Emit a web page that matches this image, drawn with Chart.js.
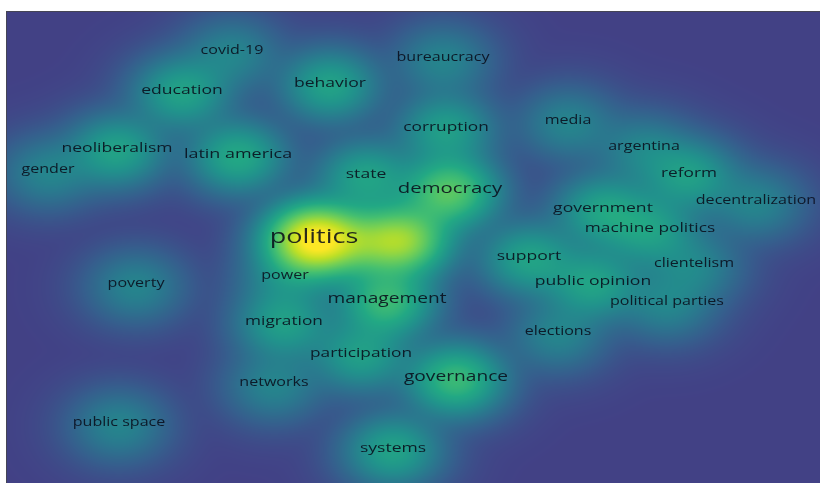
<!DOCTYPE html>
<html>
<head>
<meta charset="utf-8">
<script src="https://cdn.jsdelivr.net/npm/chart.js@4/dist/chart.umd.min.js"></script>
<style>
  html, body { margin: 0; padding: 0; background: #ffffff; }
  #c { display: block; }
</style>
</head>
<body>
<canvas id="c" width="822" height="483"></canvas>
<script>
// ---- Data (map coordinates of the items) ----
const labels = ["politics","democracy","management","governance","latin america","education","systems",
  "corruption","state","government","support","public opinion","participation","migration","behavior",
  "reform","machine politics","neoliberalism","covid-19","bureaucracy","media","gender","argentina",
  "decentralization","clientelism","political parties","elections","poverty","power","networks","public space",
  "", ""];
const xs = [308,444,381,450,232,176,387,
  440,360,597,523,587,355,278,324,
  683,644,111,226,437,562,42,638,
  750,688,661,552,130,279,268,113,
  396,352];
const ys = [225,177,287,365,142,78,436,
  115,162,196,244,269,341,309,71,
  161,216,136,39,46,109,158,135,
  189,252,290,320,272,264,371,411,
  226,228];
const weights = [100,45,35,35,25,22,22,
  20,22,22,22,22,20,20,22,
  20,20,22,10,10,10,10,10,
  10,10,10,10,10,10,10,10,
  62,25];

// ---- Style ----
const VIRIDIS = ["#440154","#482475","#414487","#355f8d","#2a788e","#21918c","#22a884","#44bf70","#7ad151","#bddf26","#fde725"];
const BASE_T = 0.19;
const SIGMA_X = 28, SIGMA_Y = 21;   // kernel width in map units
const GAMMA = 0.5;
const TEXT_STRETCH = 1.35;
const GLOW_SHIFT_Y = 4;             // density centre slightly below label centre

function hexRgb(h){ return [parseInt(h.substr(1,2),16),parseInt(h.substr(3,2),16),parseInt(h.substr(5,2),16)]; }
const VIR = VIRIDIS.map(hexRgb);
function viridis(t){
  t = Math.max(0, Math.min(1, t));
  const f = t * (VIR.length - 1);
  const i = Math.min(VIR.length - 2, Math.floor(f));
  const u = f - i;
  const a = VIR[i], b = VIR[i+1];
  return [a[0]+(b[0]-a[0])*u, a[1]+(b[1]-a[1])*u, a[2]+(b[2]-a[2])*u];
}

const points = xs.map((x, i) => ({ x: x, y: ys[i] }));

const densityPlugin = {
  id: 'density',
  beforeDatasetsDraw(chart) {
    const { ctx, chartArea: ca, scales } = chart;
    const sx = scales.x, sy = scales.y;
    const px = xs.map(v => sx.getPixelForValue(v));
    const py = ys.map(v => sy.getPixelForValue(v) + GLOW_SHIFT_Y);
    const kx = Math.abs(sx.getPixelForValue(SIGMA_X) - sx.getPixelForValue(0));
    const ky = Math.abs(sy.getPixelForValue(SIGMA_Y) - sy.getPixelForValue(0));
    const x0 = Math.round(ca.left), y0 = Math.round(ca.top);
    const w = Math.round(ca.right) - x0, h = Math.round(ca.bottom) - y0;
    const img = ctx.createImageData(w, h);
    const d = img.data;
    const ax = 1 / (2 * kx * kx), ay = 1 / (2 * ky * ky);
    for (let j = 0; j < h; j++) {
      const yy = y0 + j + 0.5;
      for (let i = 0; i < w; i++) {
        const xx = x0 + i + 0.5;
        let D = 0;
        for (let k = 0; k < px.length; k++) {
          const dx = xx - px[k], dy = yy - py[k];
          const e = dx * dx * ax + dy * dy * ay;
          if (e < 20) D += weights[k] * Math.exp(-e);
        }
        const t = BASE_T + (1 - BASE_T) * Math.min(1, Math.pow(D / 100, GAMMA));
        const c = viridis(t);
        const o = (j * w + i) * 4;
        d[o] = c[0]; d[o+1] = c[1]; d[o+2] = c[2]; d[o+3] = 255;
      }
    }
    ctx.putImageData(img, x0, y0);
    ctx.save();
    ctx.fillStyle = 'rgba(70,70,80,0.9)';
    ctx.fillRect(x0, y0, w, 1);
    ctx.fillRect(x0, y0, 1, h);
    ctx.restore();
  }
};

const labelPlugin = {
  id: 'itemLabels',
  afterDatasetsDraw(chart) {
    const { ctx, scales } = chart;
    ctx.save();
    ctx.textAlign = 'center';
    ctx.textBaseline = 'middle';
    ctx.fillStyle = 'rgba(8,10,24,0.86)';
    labels.forEach((lab, i) => {
      if (!lab) return;
      const x = scales.x.getPixelForValue(xs[i]);
      const y = scales.y.getPixelForValue(ys[i]);
      const size = Math.min(20, 11.0 + 0.09 * weights[i]);
      ctx.save();
      ctx.translate(x, y + 1);
      ctx.scale(TEXT_STRETCH, 1);
      ctx.font = size.toFixed(1) + 'px "Open Sans", "DejaVu Sans", sans-serif';
      ctx.fillText(lab, 0, 0);
      ctx.restore();
    });
    ctx.restore();
  }
};

new Chart(document.getElementById('c'), {
  type: 'scatter',
  data: { datasets: [{ data: points, pointRadius: 0, pointHoverRadius: 0, showLine: false }] },
  options: {
    responsive: false,
    animation: false,
    devicePixelRatio: 1,
    layout: { padding: { left: 6, top: 11, right: 2, bottom: 0 } },
    scales: {
      x: { type: 'linear', min: 0, max: 814, display: false },
      y: { type: 'linear', min: 0, max: 472, reverse: true, display: false }
    },
    plugins: { legend: { display: false }, tooltip: { enabled: false } }
  },
  plugins: [densityPlugin, labelPlugin]
});
</script>
</body>
</html>
